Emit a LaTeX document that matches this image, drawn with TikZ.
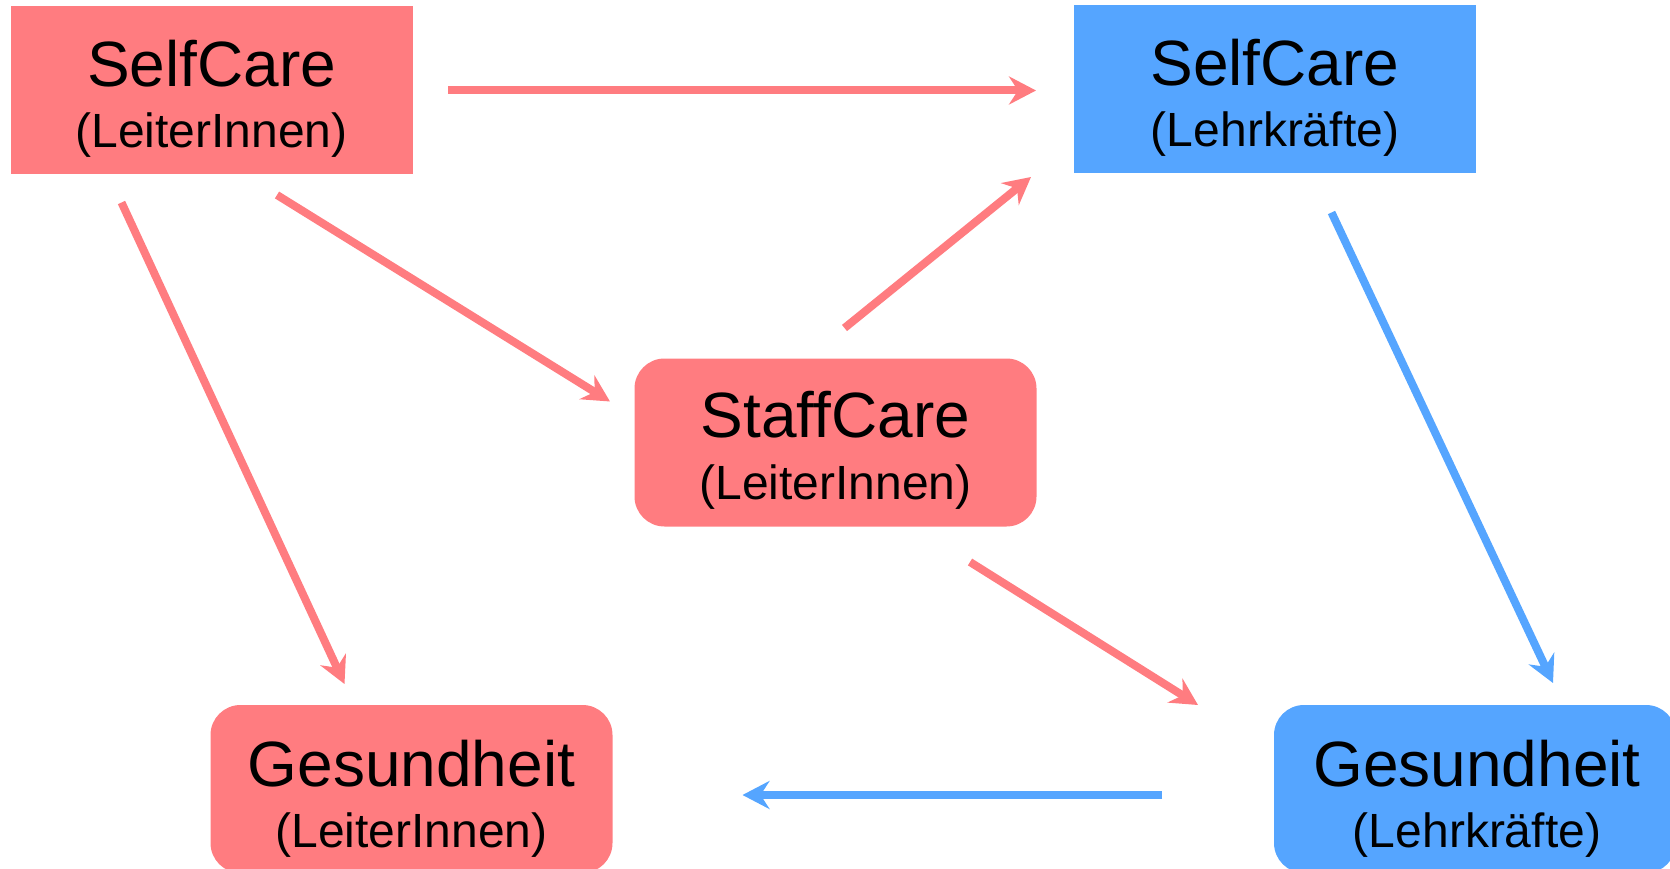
\documentclass[tikz,border=0pt]{standalone}
\usepackage{fontspec}
\setmainfont{Liberation Sans}
\usetikzlibrary{arrows.meta}
\definecolor{cred}{HTML}{FF7C80}
\definecolor{cblue}{HTML}{55A5FF}
\begin{document}
\begin{tikzpicture}[x=1pt,y=-1pt,
  box/.style={fill=#1, draw=none, minimum width=402pt, minimum height=168pt, inner sep=0pt},
  rbox/.style={box=#1, rounded corners=30pt},
  big/.style={font=\fontsize{64}{70}\selectfont, anchor=base, inner sep=0pt},
  small/.style={font=\fontsize{48}{52}\selectfont, anchor=base, inner sep=0pt},
  conn/.style={draw=#1, line width=8pt, -{Stealth[length=27pt,width=28pt,inset=9pt]}}]
\useasboundingbox (0,0) rectangle (1670,869);
\clip (0,0) rectangle (1670,869);
% boxes
\node[box=cred] (scl) at (211.5,90) {};
\node[box=cblue] (sct) at (1275,89) {};
\node[rbox=cred] (sc) at (835.5,442.5) {};
\node[rbox=cred] (gl) at (411.5,789) {};
\node[rbox=cblue] (gt) at (1475,789) {};
% texts
\node[big] (scl1) at (211.5,87) {SelfCare};
\node[small] (scl2) at (211.5,148) {(LeiterInnen)};
\node[big] (sct1) at (1275,86) {SelfCare};
\node[small] (sct2) at (1275,147) {(Lehrkräfte)};
\node[big] (sc1) at (835.5,437) {StaffCare};
\node[small] (sc2) at (835.5,499) {(LeiterInnen)};
\node[big] (gl1) at (411.5,786) {Gesundheit};
\node[small] (gl2) at (411.5,847) {(LeiterInnen)};
\node[big] (gt1) at (1477,786) {Gesundheit};
\node[small] (gt2) at (1477,847) {(Lehrkräfte)};
% connector end points
\coordinate (a1s) at (448,90.5);   \coordinate (a1e) at (1036,90.5);
\coordinate (a2s) at (277,195);    \coordinate (a2e) at (610,401.5);
\coordinate (a3s) at (121.5,202.5);\coordinate (a3e) at (344.5,684);
\coordinate (a4s) at (844.5,328);  \coordinate (a4e) at (1031,177);
\coordinate (a5s) at (970,562);    \coordinate (a5e) at (1198,705);
\coordinate (a6s) at (1331.5,212.5);\coordinate (a6e) at (1553,683);
\coordinate (a7s) at (1162,795);   \coordinate (a7e) at (742.5,795);
% connectors
\draw[conn=cred] (a1s) -- (a1e);
\draw[conn=cred] (a2s) -- (a2e);
\draw[conn=cred] (a3s) -- (a3e);
\draw[conn=cred] (a4s) -- (a4e);
\draw[conn=cred] (a5s) -- (a5e);
\draw[conn=cblue] (a6s) -- (a6e);
\draw[conn=cblue] (a7s) -- (a7e);
\end{tikzpicture}
\end{document}
